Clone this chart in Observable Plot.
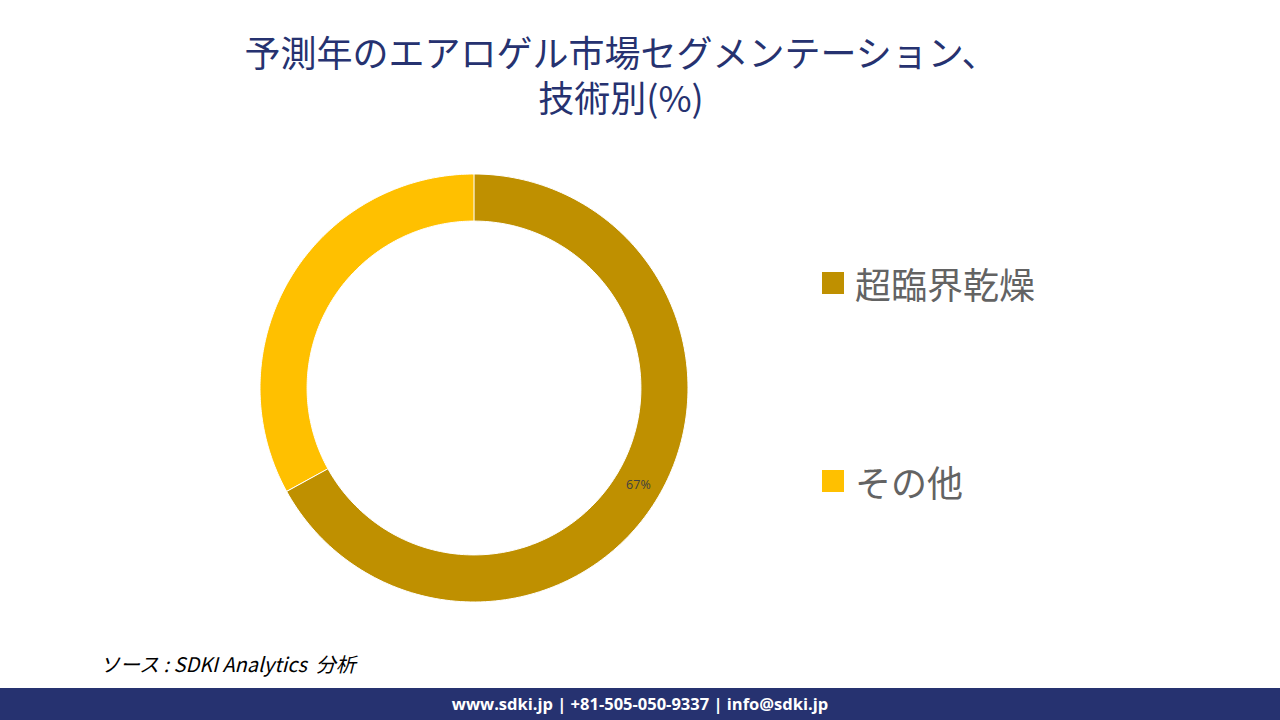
<!DOCTYPE html>
<html>
<head>
<meta charset="utf-8">
<script src="https://cdn.jsdelivr.net/npm/d3@7"></script>
<script src="https://cdn.jsdelivr.net/npm/@observablehq/plot@0.6"></script>
<style>
  html, body { margin: 0; padding: 0; background: #fff; }
  #page { position: relative; width: 1280px; height: 720px; overflow: hidden; background: #fff; }
  .tl { position: absolute; left: 0; width: 1242px; text-align: center; white-space: nowrap;
    font-family: "Noto Sans CJK JP", sans-serif; font-size: 36px; line-height: 40px; color: #263270; }
  #chart { position: absolute; left: 0; top: 0; }
  .leg { position: absolute; display: flex; align-items: center; font-family: "Noto Sans CJK JP", sans-serif;
    font-size: 36px; color: #636363; }
  .leg .sw { width: 22px; height: 22px; margin-right: 11px; }
  #source { position: absolute; left: 100px; top: 649px; font-family: "Noto Sans CJK JP", sans-serif;
    font-style: italic; font-size: 20px; color: #000; white-space: pre; }
  #footer { position: absolute; left: 0; top: 688px; width: 1280px; height: 32px; background: #263270;
    color: #fff; font-family: "Open Sans", sans-serif; font-weight: 700; font-size: 16.5px;
    text-align: center; line-height: 32px; }
</style>
</head>
<body>
<div id="page">
  <div id="chart"></div>
  <div id="title"></div>
  <div id="legend"></div>
  <div id="source"></div>
  <div id="footer"></div>
</div>
<script>
const titleLines = ["予測年のエアロゲル市場セグメンテーション、", "技術別(%)"];
const categories = ["超臨界乾燥", "その他"];
const shares = [67, 33];
const colors = ["#BF9000", "#FFC000"];
const shownLabels = ["67%", null];
const sourceText = "ソース : SDKI Analytics  分析";
const footerText = "www.sdki.jp | +81-505-050-9337 | info@sdki.jp";

const titleTops = [31, 76];
const titleEl = document.getElementById("title");
titleLines.forEach((t, i) => {
  const d = document.createElement("div");
  d.className = "tl";
  d.style.top = titleTops[i] + "px";
  d.textContent = t;
  titleEl.appendChild(d);
});
document.getElementById("source").textContent = sourceText;
document.getElementById("footer").textContent = footerText;

// ring geometry derived from the data via d3.pie
const inner = 0.78;
const arcs = d3.pie().sort(null)(shares);
const ring = [];
arcs.forEach((a, i) => {
  const n = 180;
  for (let k = 0; k <= n; k++) {
    const t = a.startAngle + (a.endAngle - a.startAngle) * k / n;
    ring.push({cat: categories[i], x1: inner * Math.sin(t), y1: inner * Math.cos(t), x2: Math.sin(t), y2: Math.cos(t)});
  }
});
const labels = arcs.map((a, i) => {
  const t = (a.startAngle + a.endAngle) / 2, r = (1 + inner) / 2;
  return {text: shownLabels[i], x: r * Math.sin(t), y: r * Math.cos(t)};
}).filter(d => d.text);

const cx = 474, cy = 388, R = 214;
const plot = Plot.plot({
  width: 1280, height: 720,
  margin: 0,
  x: {domain: [-1, 1], range: [cx - R, cx + R], axis: null},
  y: {domain: [-1, 1], range: [cy + R, cy - R], axis: null},
  color: {domain: categories, range: colors},
  marks: [
    Plot.area(ring, {x1: "x1", y1: "y1", x2: "x2", y2: "y2", z: "cat", fill: "cat", stroke: "#fff", strokeWidth: 1}),
    Plot.text(labels, {x: "x", y: "y", text: "text", fill: "#404040", fontSize: 12.5, fontFamily: "Open Sans, sans-serif"})
  ]
});
document.getElementById("chart").appendChild(plot);

const legTops = [261, 459];
const legend = document.getElementById("legend");
categories.forEach((c, i) => {
  const el = document.createElement("div");
  el.className = "leg";
  el.style.left = "822px";
  el.style.top = legTops[i] + "px";
  el.style.height = "44px";
  el.innerHTML = `<div class="sw" style="background:${colors[i]}"></div><span>${c}</span>`;
  legend.appendChild(el);
});
</script>
</body>
</html>
